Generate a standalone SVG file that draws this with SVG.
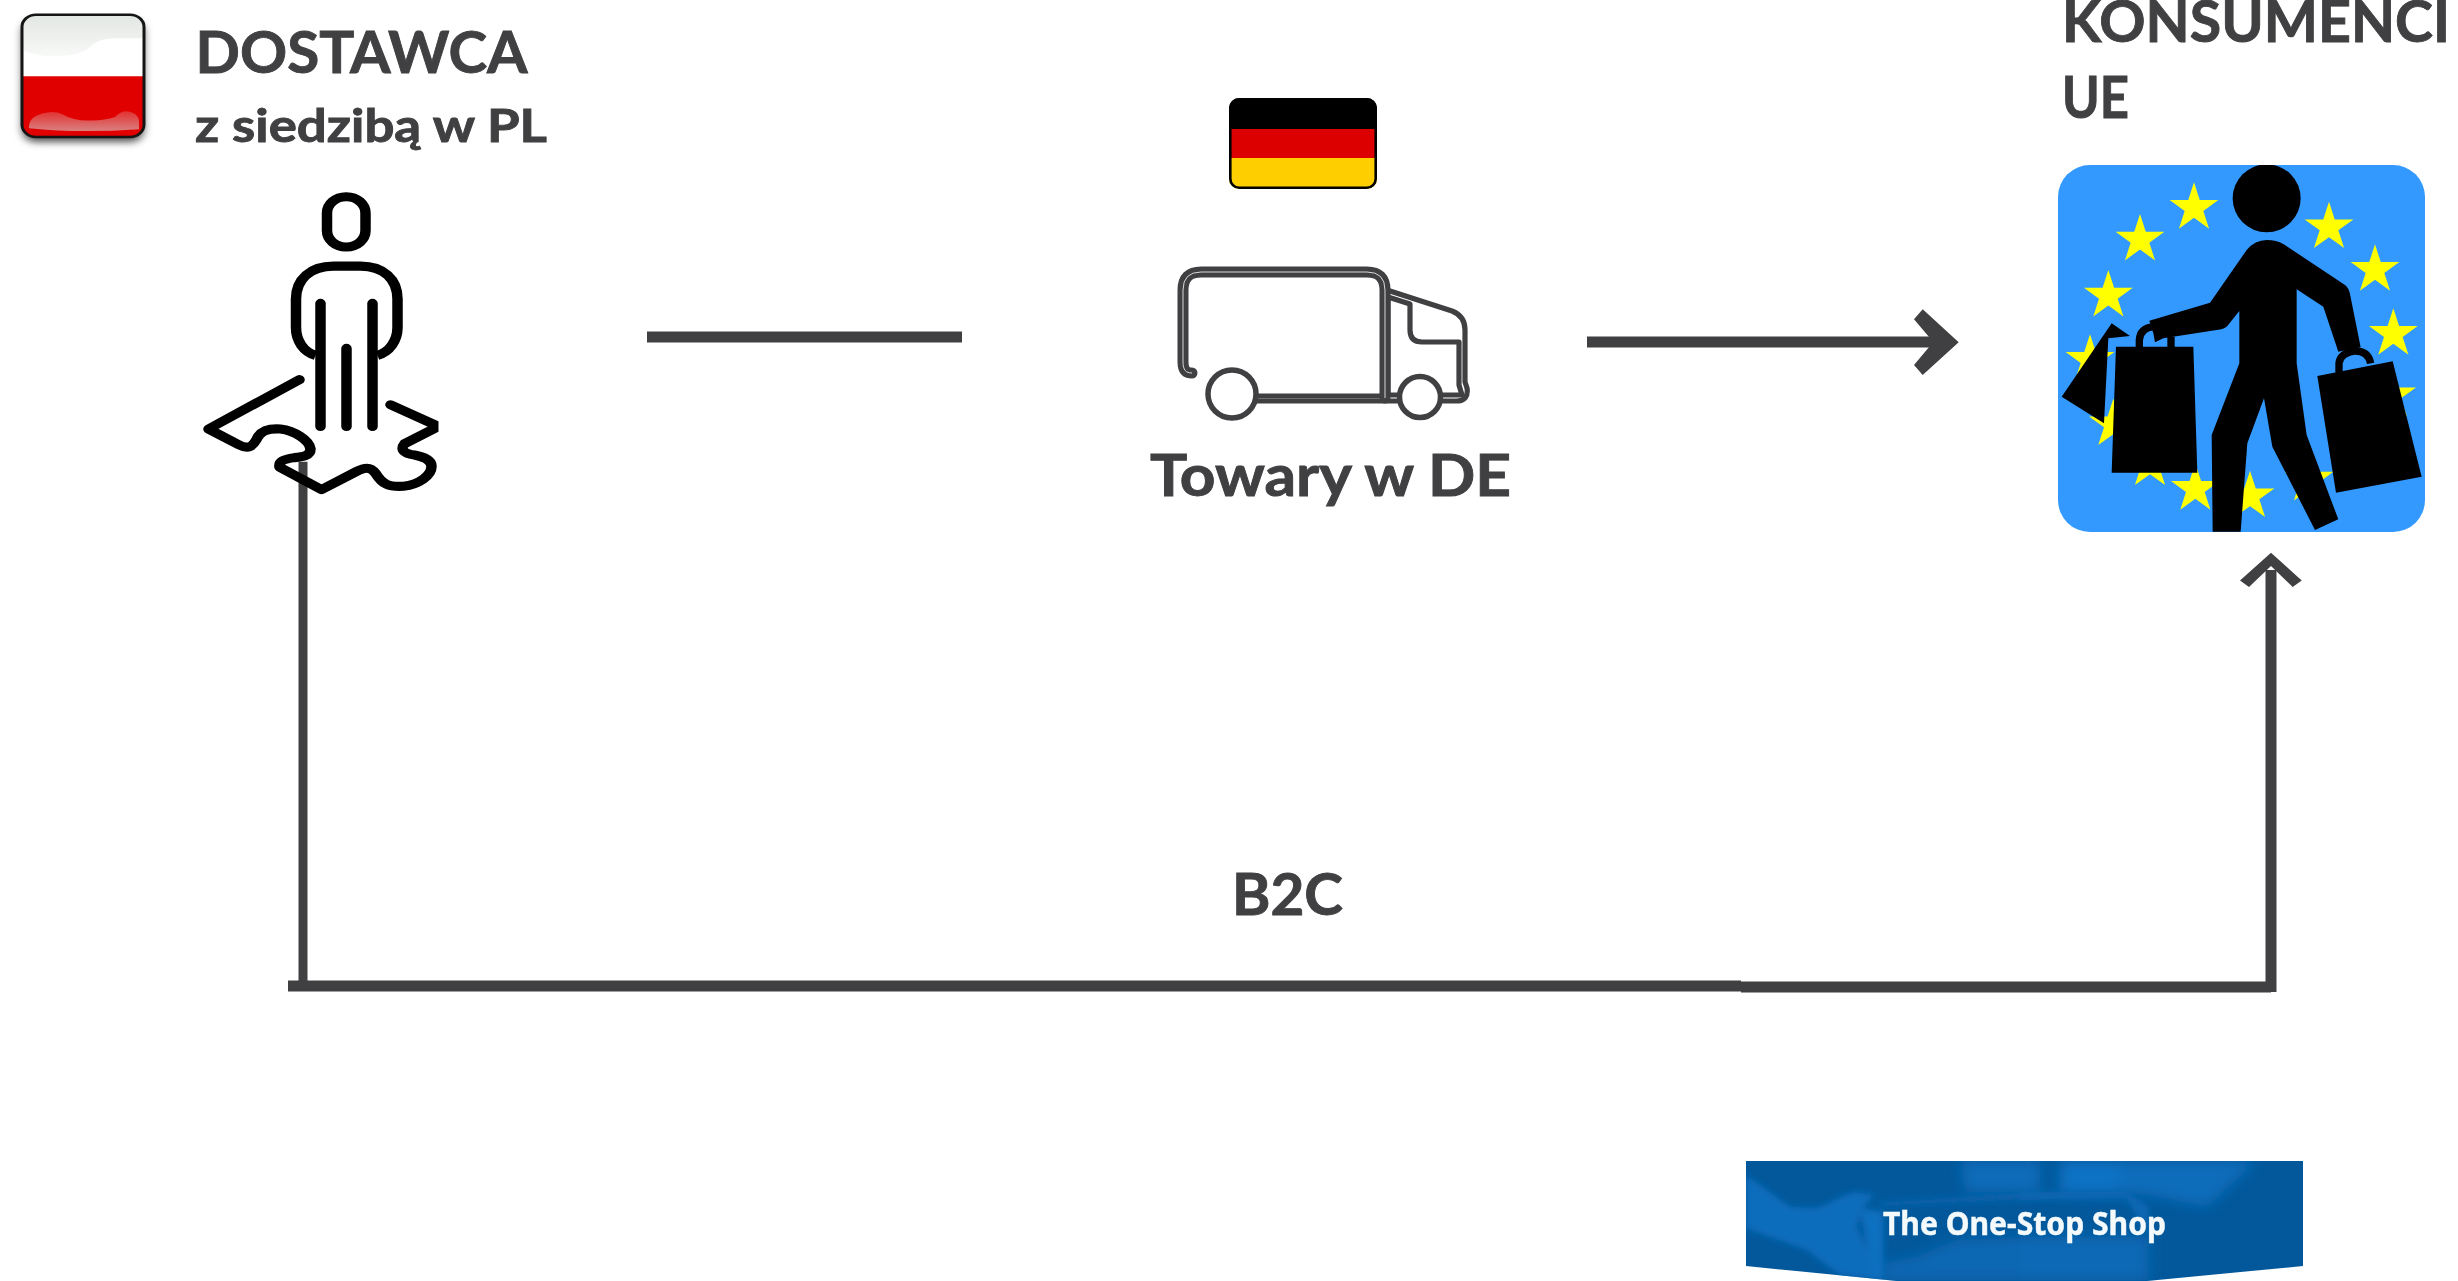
<svg xmlns="http://www.w3.org/2000/svg" xmlns:xlink="http://www.w3.org/1999/xlink" width="2458" height="1281" viewBox="0 0 2458 1281">
<style>
text{font-family:"Lato","Liberation Sans",sans-serif;font-weight:700;fill:#404042;stroke:#404042;stroke-width:.9}
.icon{fill:none;stroke:#000;stroke-width:10.5;stroke-linecap:round;stroke-linejoin:round}
.tk{fill:none;stroke:#404042;stroke-width:11;stroke-linecap:round;stroke-linejoin:round}
.tn{fill:none;stroke:#404042;stroke-width:5.2;stroke-linecap:round;stroke-linejoin:round}
.tkl{fill:none;stroke:#d8d8d8;stroke-width:1}
.tw{fill:#fff;stroke:#404042;stroke-width:5.5}
.line{fill:none;stroke:#404042;stroke-width:11}
.head{fill:#404042}
.star{fill:#ff0}
.blk{fill:#000}
</style>
<defs>
<filter id="sh" x="-20%" y="-20%" width="140%" height="140%"><feDropShadow dx="0" dy="6" stdDeviation="4" flood-color="#000" flood-opacity=".65"/></filter>
<filter id="bl" x="-20%" y="-20%" width="140%" height="140%"><feGaussianBlur stdDeviation="3"/></filter>
<filter id="bl2" x="-20%" y="-20%" width="140%" height="140%"><feGaussianBlur stdDeviation="7"/></filter>
<filter id="bt" x="-5%" y="-20%" width="110%" height="140%"><feGaussianBlur stdDeviation=".5"/></filter>
<linearGradient id="gw" x1="0" y1="0" x2="0" y2="1"><stop offset="0" stop-color="#e2e6e2"/><stop offset="1" stop-color="#f8f9f8"/></linearGradient>
<linearGradient id="gr" x1="0" y1="0" x2="0" y2="1"><stop offset="0" stop-color="#e23030"/><stop offset="1" stop-color="#da8080"/></linearGradient>
<clipPath id="cpl"><rect x="22" y="17" width="122" height="141" rx="14"/></clipPath>
<clipPath id="cp"><rect x="190" y="221.5" width="250" height="360"/></clipPath>
<clipPath id="cde"><rect x="1229" y="98" width="148" height="91" rx="10"/></clipPath>
<clipPath id="ceu"><rect x="2058" y="165" width="367" height="367" rx="32"/></clipPath>
<clipPath id="cb"><path d="M1746 1161H2303V1266L2147 1281H1897L1746 1266Z"/></clipPath>
<polygon id="st" points="0,-77 17.3,-23.8 73.2,-23.8 28,9.1 45.3,62.3 0,29.4 -45.3,62.3 -28,9.1 -73.2,-23.8 -17.3,-23.8"/>
<path id="t1" d="M1192 373C1186 373 1183 370 1183 362V290Q1183 272 1201 272H1367Q1385 272 1385 290V398"/>
<path id="t2" d="M1390 291L1452 311Q1465 316 1465 330V382L1467 388Q1469 401 1456 401H1440M1398 401H1255"/>
<path id="t3" d="M1388 297L1410 304V330Q1410 342 1422 342H1459V385L1462 395H1443M1398 395H1388V297M1385 396H1257"/>
</defs>

<g id="connectors">
<path class="line" d="M647 337H962"/>
<path class="line" d="M1587 342H1940"/>
<polygon class="head" points="1922.7,309.3 1958.7,342.3 1922.7,375 1914,365 1933.3,342 1914,319.3"/>
<path class="line" style="stroke-width:9" d="M303 461.7V986"/>
<path class="line" d="M288 986H1741"/>
<path class="line" d="M1741 987H2271"/>
<path class="line" d="M2271 992V570"/>
<polygon class="head" points="2271,552.7 2301.7,580.5 2292.7,587 2271,566 2249,587 2240,580.5"/>
</g>

<g id="flag-pl" transform="scale(1 .8667)">
<g filter="url(#sh)"><rect x="22" y="17" width="122" height="141" rx="14" fill="#fff"/></g>
<g clip-path="url(#cpl)">
<rect x="22" y="17" width="122" height="71" fill="#fff"/>
<path d="M22 17H144V44H115Q100 44 92 52Q82 65 55 65Q35 65 22 58Z" fill="url(#gw)"/>
<rect x="22" y="88" width="122" height="70" fill="#e00000"/>
<path d="M29 148Q28 136 42 131Q54 127 63 132Q74 140 92 139Q105 139 115 135Q122 126 130 129Q139 132 139 140V149Q80 154 29 148Z" fill="url(#gr)"/>
</g>
<rect x="22" y="17" width="122" height="141" rx="14" fill="none" stroke="#151515" stroke-width="3"/>
</g>

<g id="label-dostawca">
<text x="195.6" y="73.3" font-size="58" textLength="332" lengthAdjust="spacingAndGlyphs">DOSTAWCA</text>
<text x="195" y="141.7" font-size="46" textLength="352" lengthAdjust="spacingAndGlyphs">z siedzibą w PL</text>
</g>

<g id="supplier" transform="translate(-1.5 0) scale(1 .8667)" clip-path="url(#cp)">
<rect class="icon" x="328.5" y="227" width="38.5" height="58" rx="19"/>
<path class="icon" style="stroke-linecap:butt" d="M317 410C305 406 297.5 393 297.5 378V345C297.5 322 312 307 335 307H362C385 307 399 322 399 345V378C399 393 391 406 379 410"/>
<path class="icon" d="M322 350V492M348 402V492M374 350V492"/>
<path class="icon" d="M301 438L210 495L240 513C250 519 254 515 258 507C262 497 270 494 282 495C296 497 311 508 312 518C312 526 304 527 296 528C285 530 280 532 281 539L323 565L358 544C366 539 372 538 377 546C384 559 390 562 405 561C420 559 433 549 433 538C433 530 424 527 416 525C404 523 402 518 406 512L440 492L392 467"/>
</g>

<g id="flag-de">
<g clip-path="url(#cde)">
<rect x="1229" y="98" width="148" height="31" fill="#000"/>
<rect x="1229" y="129" width="148" height="29" fill="#dd0000"/>
<rect x="1229" y="158" width="148" height="31" fill="#ffce00"/>
</g>
<rect x="1230.3" y="99.3" width="145.4" height="88.4" rx="9" fill="none" stroke="#000" stroke-width="2.6"/>
</g>

<g id="truck">
<use xlink:href="#t1" class="tk"/><use xlink:href="#t2" class="tn"/>
<use xlink:href="#t3" class="tn"/>
<use xlink:href="#t1" class="tkl"/>
<circle class="tw" cx="1232" cy="394" r="24"/>
<circle class="tw" cx="1420" cy="397" r="20.5"/>
<text x="1150" y="496" font-size="57" textLength="361" lengthAdjust="spacingAndGlyphs">Towary w DE</text>
</g>

<g id="label-b2c"><text x="1232" y="915" font-size="58" textLength="111" lengthAdjust="spacingAndGlyphs">B2C</text></g>

<g id="label-konsumenci">
<text x="2062" y="42" font-size="58" textLength="388" lengthAdjust="spacingAndGlyphs">KONSUMENCI</text>
<text x="2062" y="118" font-size="58" textLength="67" lengthAdjust="spacingAndGlyphs">UE</text>
</g>

<g id="consumers">
<rect x="2058" y="165" width="367" height="367" rx="32" fill="#3399ff"/>
<g clip-path="url(#ceu)"><g transform="translate(2040 150) scale(.33333)">
<use xlink:href="#st" class="star" x="462" y="174"/><use xlink:href="#st" class="star" x="300" y="269"/>
<use xlink:href="#st" class="star" x="205" y="437"/><use xlink:href="#st" class="star" x="867" y="232"/>
<use xlink:href="#st" class="star" x="1005" y="360"/><use xlink:href="#st" class="star" x="1060" y="552"/>
<use xlink:href="#st" class="star" x="150" y="630"/><use xlink:href="#st" class="star" x="220" y="823"/>
<use xlink:href="#st" class="star" x="1055" y="736"/><use xlink:href="#st" class="star" x="807" y="989"/>
<use xlink:href="#st" class="star" x="630" y="1039"/><use xlink:href="#st" class="star" x="466" y="1017"/>
<use xlink:href="#st" class="star" x="330" y="943"/>
<circle class="blk" cx="680" cy="145" r="102"/>
<path class="blk" d="M680 270Q710 270 730 282L915 405Q927 415 930 432L962 592L895 605L850 470L770 418V640L800 855L895 1108L825 1140L697 890L672 745L622 880L602 1145H518L515 855L598 640V483L562 528Q552 538 530 540L370 565L345 577L340 550L328 512L510 458L620 300Q645 270 680 270Z"/>
<polygon class="blk" points="832,678 1058,634 1145,980 888,1028"/>
<path d="M897 668V640Q900 610 945 603Q985 603 992 640" fill="none" stroke="#000" stroke-width="22"/>
<polygon class="blk" points="228,590 460,590 472,968 215,968"/>
<path d="M298 595V570Q300 535 340 530M393 595V560" fill="none" stroke="#000" stroke-width="22"/>
<polygon class="blk" points="215,520 270,558 205,565 192,820 65,740"/>
</g></g>
</g>

<g id="banner">
<g clip-path="url(#cb)">
<rect x="1746" y="1161" width="557" height="120" fill="#02589b"/>
<g filter="url(#bl2)">
<g transform="translate(1740 1150) scale(.33333)">
<path fill="#0a6cba" d="M670 33H900V125L680 125Q660 80 670 33Z"/>
<path fill="#0b68b4" d="M530 320L650 270L900 260V390H430V340Z"/>
</g>
<g transform="translate(2020 1150) scale(.33333)">
<path fill="#0a72c4" d="M120 33H300V130H120Z"/>
<path fill="#0d6dbb" d="M300 33H710L560 170L385 135L300 130Z"/>
<path fill="#0b69b6" d="M0 260H385V390H0Z"/>
</g>
</g>
<g filter="url(#bl)">
<g transform="translate(1740 1150) scale(.33333)">
<path fill="#0b6dbd" d="M18 75L150 170L230 175L340 125L405 135L365 175L350 230L420 390L300 375L200 300L18 235Z"/>
<path fill="#0a64ad" d="M420 155L900 125V145L420 170Z"/>
<path fill="#0e70c0" d="M360 175L430 185V390H400Z"/>
</g>
<g transform="translate(2020 1150) scale(.33333)">
<path fill="#0a68b4" d="M0 125L320 125L385 170V260L320 145L0 150Z"/>
</g>
</g>
</g>
<text x="1883" y="1235" font-size="33" filter="url(#bt)" style="font-family:'Noto Sans',sans-serif;fill:#f4f9fc;stroke:#f4f9fc;stroke-width:.5" textLength="283" lengthAdjust="spacingAndGlyphs">The One-Stop Shop</text>
</g>
</svg>
